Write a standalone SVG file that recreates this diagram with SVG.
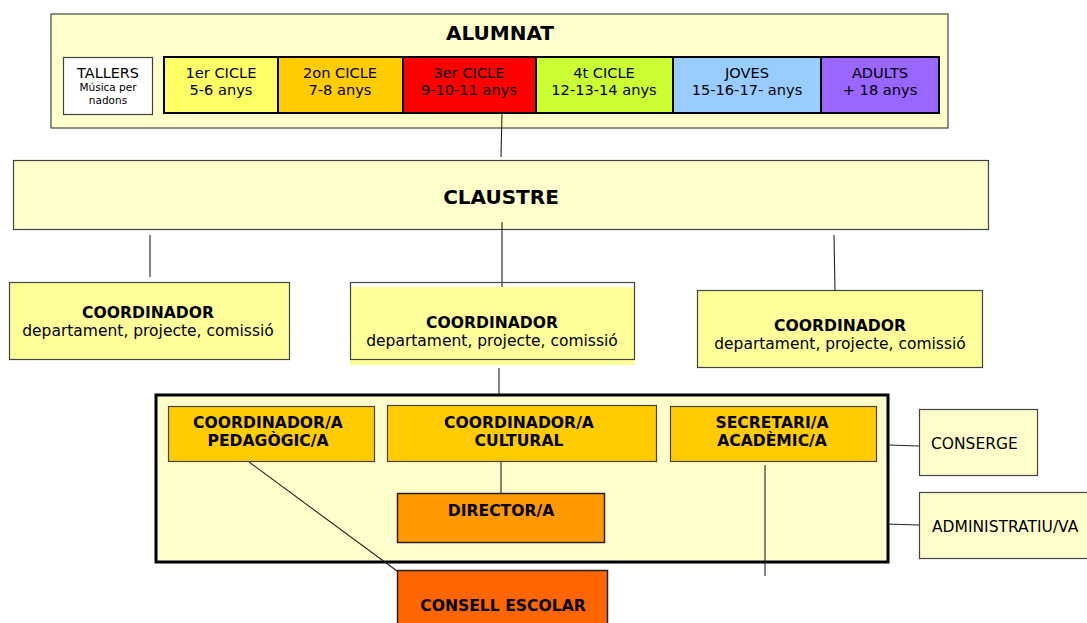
<svg xmlns="http://www.w3.org/2000/svg" width="1087" height="623" viewBox="0 0 1087 623">
<style>
text{font-family:"DejaVu Sans",Verdana,sans-serif;fill:#000;text-anchor:middle}
.c{font-size:14.6px}
.d{font-size:15.5px}
.b{font-weight:bold;font-size:15.6px}
.n{stroke:#444;stroke-width:1.2}
.ln{stroke:#222;stroke-width:1.1;fill:none}
</style>
<rect width="1087" height="623" fill="#fff"/>
<g id="alumnat">
<rect x="51" y="14" width="897" height="114" fill="#ffffcc" class="n"/>
<text x="500" y="40" style="font-size:20px;font-weight:bold">ALUMNAT</text>
</g>
<g id="tallers">
<rect x="63.5" y="57.5" width="89" height="57" fill="#fff" class="n"/>
<text x="108" y="78" style="font-size:14.4px">TALLERS</text>
<text x="108" y="91" style="font-size:10.5px">Música per</text>
<text x="108" y="104" style="font-size:10.5px">nadons</text>
</g>
<g id="cicles">
<rect x="164" y="57" width="114" height="56" fill="#ffff66"/>
<rect x="278" y="57" width="125" height="56" fill="#ffcc00"/>
<rect x="403" y="57" width="133" height="56" fill="#ff0000"/>
<rect x="536" y="57" width="137" height="56" fill="#ccff33"/>
<rect x="673" y="57" width="148" height="56" fill="#99ccff"/>
<rect x="821" y="57" width="118" height="56" fill="#9966ff"/>
<g stroke="#000" stroke-width="2" fill="none">
<rect x="164" y="57" width="775" height="56"/>
<path d="M278 57V113M403 57V113M536 57V113M673 57V113M821 57V113"/>
</g>
<text x="221" y="78" class="c">1er CICLE</text><text x="221" y="95" class="c">5-6 anys</text>
<text x="340" y="78" class="c">2on CICLE</text><text x="340" y="95" class="c">7-8 anys</text>
<text x="469" y="78" class="c">3er CICLE</text><text x="469" y="95" class="c">9-10-11 anys</text>
<text x="604" y="78" class="c">4t CICLE</text><text x="604" y="95" class="c">12-13-14 anys</text>
<text x="747" y="78" class="c">JOVES</text><text x="747" y="95" class="c">15-16-17- anys</text>
<text x="880" y="78" class="c">ADULTS</text><text x="880" y="95" class="c">+ 18 anys</text>
</g>
<g id="claustre">
<rect x="13.5" y="160.5" width="975" height="69" fill="#ffffcc" class="n"/>
<text x="501" y="204" style="font-size:20px;font-weight:bold">CLAUSTRE</text>
</g>
<g id="connectors">
<path class="ln" d="M502 113L501 157"/>
<path class="ln" d="M150 235V277"/>
<path class="ln" d="M502 222V288"/>
<path class="ln" d="M834 235L835 290"/>
<path class="ln" d="M499 368V395"/>
<path class="ln" d="M889 445L919 446"/>
<path class="ln" d="M885 524L919 525"/>
</g>
<g id="coord-left">
<rect x="9.5" y="282.5" width="280" height="77" fill="#ffff99" class="n"/>
<text x="148" y="318" class="b">COORDINADOR</text>
<text x="148" y="336" class="d">departament, projecte, comissió</text>
</g>
<g id="coord-mid">
<rect x="350" y="287" width="285" height="78" fill="#ffff99"/>
<rect x="350.5" y="282.5" width="284" height="77" fill="none" class="n"/>
<text x="492" y="328" class="b">COORDINADOR</text>
<text x="492" y="346" class="d">departament, projecte, comissió</text>
</g>
<g id="coord-right">
<rect x="697.5" y="290.5" width="285" height="77" fill="#ffff99" class="n"/>
<text x="840" y="331" class="b">COORDINADOR</text>
<text x="840" y="349" class="d">departament, projecte, comissió</text>
</g>
<g id="equip-directiu">
<rect x="156" y="395" width="732" height="167" fill="#ffffcc" stroke="#000" stroke-width="3"/>
</g>
<g id="inner-connectors">
<path class="ln" d="M501 461V493"/>
<path class="ln" d="M249 462L397 571"/>
<path class="ln" d="M765 465V576"/>
</g>
<g id="pedagogic">
<rect x="168.5" y="406.5" width="206" height="55" fill="#ffcc00" class="n"/>
<text x="268" y="428" class="b">COORDINADOR/A</text>
<text x="268" y="446" class="b">PEDAGÒGIC/A</text>
</g>
<g id="cultural">
<rect x="387.5" y="405.5" width="269" height="56" fill="#ffcc00" class="n"/>
<text x="519" y="428" class="b">COORDINADOR/A</text>
<text x="519" y="446" class="b">CULTURAL</text>
</g>
<g id="secretari">
<rect x="670.5" y="406.5" width="206" height="55" fill="#ffcc00" class="n"/>
<text x="772" y="428" class="b">SECRETARI/A</text>
<text x="772" y="446" class="b">ACADÈMIC/A</text>
</g>
<g id="director">
<rect x="397.5" y="493.5" width="207" height="49" fill="#ff9900" stroke="#222" stroke-width="1.5"/>
<text x="501" y="516" class="b">DIRECTOR/A</text>
</g>
<g id="consell">
<rect x="397.5" y="570.5" width="210" height="60" fill="#ff6600" stroke="#222" stroke-width="1.5"/>
<text x="503" y="611" class="b">CONSELL ESCOLAR</text>
</g>
<g id="conserge">
<rect x="919.5" y="409.5" width="118" height="66" fill="#ffffcc" class="n"/>
<text x="931" y="449" class="d" style="text-anchor:start">CONSERGE</text>
</g>
<g id="administratiu">
<rect x="919.5" y="492.5" width="180" height="66" fill="#ffffcc" class="n"/>
<text x="932" y="532" class="d" style="text-anchor:start">ADMINISTRATIU/VA</text>
</g>
</svg>
